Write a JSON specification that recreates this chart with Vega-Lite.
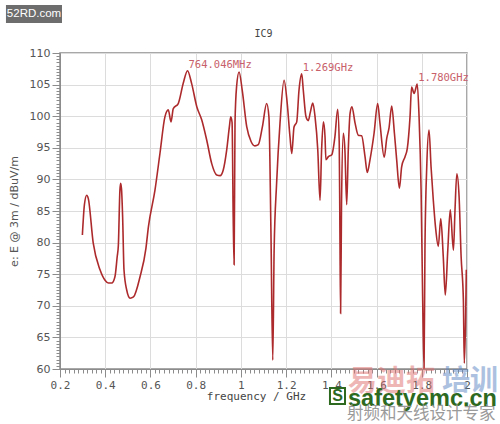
{
  "$schema": "https://vega.github.io/schema/vega-lite/v6.json",
  "width": 407,
  "height": 316,
  "autosize": {"type": "none"},
  "padding": {"left": 60, "top": 53, "right": 33, "bottom": 55},
  "background": "white",
  "config": {"view": {"stroke": "#8c8c8c", "strokeWidth": 1.5}},
  "datasets": {
    "trace": [
      {"f": 0.299, "v": 81.2}, {"f": 0.308, "v": 86.0}, {"f": 0.318, "v": 87.5}, {"f": 0.325, "v": 87.0},
      {"f": 0.347, "v": 79.9}, {"f": 0.377, "v": 75.7}, {"f": 0.40, "v": 74.0}, {"f": 0.414, "v": 73.6},
      {"f": 0.429, "v": 73.6}, {"f": 0.443, "v": 74.6}, {"f": 0.453, "v": 77.8}, {"f": 0.458, "v": 79.5},
      {"f": 0.465, "v": 88.3}, {"f": 0.468, "v": 89.4}, {"f": 0.472, "v": 88.5}, {"f": 0.477, "v": 84.1},
      {"f": 0.483, "v": 75.7}, {"f": 0.495, "v": 72.5}, {"f": 0.510, "v": 71.2}, {"f": 0.525, "v": 71.4},
      {"f": 0.554, "v": 74.6}, {"f": 0.580, "v": 79.1}, {"f": 0.591, "v": 82.5}, {"f": 0.620, "v": 88.3},
      {"f": 0.642, "v": 94.1}, {"f": 0.664, "v": 99.9}, {"f": 0.679, "v": 101.0}, {"f": 0.691, "v": 99.1},
      {"f": 0.701, "v": 101.2}, {"f": 0.723, "v": 102.0}, {"f": 0.745, "v": 105.2}, {"f": 0.764, "v": 107.2},
      {"f": 0.782, "v": 105.2}, {"f": 0.805, "v": 101.5}, {"f": 0.827, "v": 99.4}, {"f": 0.849, "v": 96.2},
      {"f": 0.871, "v": 92.5}, {"f": 0.893, "v": 90.7}, {"f": 0.908, "v": 90.6}, {"f": 0.922, "v": 91.5},
      {"f": 0.937, "v": 94.6}, {"f": 0.949, "v": 98.3}, {"f": 0.955, "v": 99.9}, {"f": 0.961, "v": 99.0},
      {"f": 0.966, "v": 84.0}, {"f": 0.970, "v": 76.5}, {"f": 0.974, "v": 99.0}, {"f": 0.981, "v": 104.7},
      {"f": 0.992, "v": 107.0}, {"f": 1.006, "v": 104.1}, {"f": 1.026, "v": 98.3}, {"f": 1.045, "v": 96.0},
      {"f": 1.062, "v": 95.3}, {"f": 1.077, "v": 95.5}, {"f": 1.095, "v": 98.3}, {"f": 1.114, "v": 102.0},
      {"f": 1.124, "v": 99.9}, {"f": 1.133, "v": 81.5}, {"f": 1.141, "v": 61.4}, {"f": 1.147, "v": 78.8},
      {"f": 1.158, "v": 89.4}, {"f": 1.173, "v": 98.9}, {"f": 1.191, "v": 105.7}, {"f": 1.205, "v": 102.0},
      {"f": 1.217, "v": 96.8}, {"f": 1.225, "v": 94.1}, {"f": 1.235, "v": 98.3}, {"f": 1.247, "v": 99.1},
      {"f": 1.257, "v": 104.1}, {"f": 1.269, "v": 106.7}, {"f": 1.276, "v": 104.1}, {"f": 1.288, "v": 99.9},
      {"f": 1.298, "v": 99.3}, {"f": 1.307, "v": 100.6}, {"f": 1.318, "v": 102.1}, {"f": 1.328, "v": 99.9},
      {"f": 1.340, "v": 94.7}, {"f": 1.350, "v": 86.7}, {"f": 1.357, "v": 94.7}, {"f": 1.365, "v": 99.1},
      {"f": 1.372, "v": 96.8}, {"f": 1.376, "v": 93.1}, {"f": 1.387, "v": 93.6}, {"f": 1.402, "v": 93.9},
      {"f": 1.416, "v": 96.8}, {"f": 1.428, "v": 101.1}, {"f": 1.435, "v": 95.7}, {"f": 1.438, "v": 81.5},
      {"f": 1.441, "v": 68.8}, {"f": 1.445, "v": 86.0}, {"f": 1.453, "v": 97.3}, {"f": 1.460, "v": 94.7},
      {"f": 1.468, "v": 86.0}, {"f": 1.475, "v": 94.7}, {"f": 1.483, "v": 100.5}, {"f": 1.491, "v": 101.5},
      {"f": 1.505, "v": 98.9}, {"f": 1.519, "v": 97.0}, {"f": 1.534, "v": 96.9}, {"f": 1.549, "v": 93.6},
      {"f": 1.559, "v": 91.1}, {"f": 1.571, "v": 93.1}, {"f": 1.589, "v": 97.3}, {"f": 1.605, "v": 102.0},
      {"f": 1.615, "v": 98.9}, {"f": 1.634, "v": 93.5}, {"f": 1.645, "v": 96.5}, {"f": 1.655, "v": 98.1},
      {"f": 1.667, "v": 101.6}, {"f": 1.679, "v": 97.3}, {"f": 1.689, "v": 93.1}, {"f": 1.701, "v": 88.6},
      {"f": 1.711, "v": 92.0}, {"f": 1.726, "v": 93.6}, {"f": 1.736, "v": 94.9}, {"f": 1.748, "v": 99.9},
      {"f": 1.755, "v": 104.6}, {"f": 1.766, "v": 103.6}, {"f": 1.780, "v": 105.1}, {"f": 1.788, "v": 99.9},
      {"f": 1.797, "v": 88.3}, {"f": 1.804, "v": 70.9}, {"f": 1.810, "v": 60.0}, {"f": 1.814, "v": 78.8},
      {"f": 1.822, "v": 92.0}, {"f": 1.832, "v": 97.8}, {"f": 1.841, "v": 92.0}, {"f": 1.851, "v": 86.7},
      {"f": 1.862, "v": 82.0}, {"f": 1.873, "v": 79.4}, {"f": 1.884, "v": 83.8}, {"f": 1.895, "v": 77.8},
      {"f": 1.904, "v": 71.7}, {"f": 1.915, "v": 78.8}, {"f": 1.926, "v": 85.2}, {"f": 1.940, "v": 78.8},
      {"f": 1.947, "v": 85.2}, {"f": 1.955, "v": 90.9}, {"f": 1.965, "v": 87.3}, {"f": 1.974, "v": 77.8},
      {"f": 1.984, "v": 70.9}, {"f": 1.988, "v": 60.9}, {"f": 1.994, "v": 68.3}, {"f": 1.997, "v": 75.7}
    ],
    "peaks": [
      {"f": 0.764, "v": 107.2, "label": "764.046MHz"},
      {"f": 1.269, "v": 106.7, "label": "1.269GHz"},
      {"f": 1.780, "v": 105.1, "label": "1.780GHz"}
    ]
  },
  "layer": [
    {
      "data": {"name": "trace"},
      "mark": {"type": "line", "color": "#ad2a2c", "strokeWidth": 1.6, "clip": true, "interpolate": "monotone"},
      "encoding": {
        "x": {
          "field": "f", "type": "quantitative",
          "scale": {"domain": [0.2, 2.0], "nice": false, "zero": false},
          "axis": {
            "values": [0.2, 0.4, 0.6, 0.8, 1.0, 1.2, 1.4, 1.6, 1.8, 2.0],
            "format": ".1~f", "grid": true, "gridColor": "#dcdcdc", "gridWidth": 1,
            "domainColor": "#8c8c8c", "tickColor": "#8c8c8c", "tickSize": 8,
            "labelFont": "DejaVu Sans Mono", "labelFontSize": 11, "labelColor": "#555555",
            "labelPadding": 2, "labelFlush": false, "labelOverlap": false,
            "title": "frequency / GHz", "titleFont": "DejaVu Sans Mono", "titleFontSize": 11,
            "titleFontWeight": "normal", "titleColor": "#444444", "titlePadding": 0, "titleX": 196
          }
        },
        "y": {
          "field": "v", "type": "quantitative",
          "scale": {"domain": [60, 110], "nice": false, "zero": false},
          "axis": {
            "values": [60, 65, 70, 75, 80, 85, 90, 95, 100, 105, 110],
            "grid": true, "gridColor": "#dcdcdc", "gridWidth": 1,
            "domainColor": "#8c8c8c", "tickColor": "#8c8c8c", "tickSize": 8,
            "labelFont": "DejaVu Sans", "labelFontSize": 11, "labelColor": "#555555",
            "labelPadding": 2, "labelFlush": false, "labelOverlap": false,
            "title": "e: E @ 3m / dBuV/m", "titleFont": "DejaVu Sans", "titleFontSize": 11,
            "titleFontWeight": "normal", "titleColor": "#555555", "titlePadding": 10
          }
        }
      }
    },
    {
      "data": {"name": "peaks"},
      "mark": {"type": "text", "align": "left", "baseline": "bottom", "dx": 1, "dy": -1, "font": "DejaVu Sans Mono", "fontSize": 10.5, "color": "#c8606a"},
      "encoding": {
        "x": {
          "field": "f", "type": "quantitative",
          "scale": {"domain": [0.2, 2.0], "nice": false, "zero": false},
          "axis": {"orient": "bottom", "tickCount": 90, "labels": false, "grid": false, "domain": false, "tickSize": 4, "tickColor": "#8c8c8c", "title": null}
        },
        "y": {
          "field": "v", "type": "quantitative",
          "scale": {"domain": [60, 110], "nice": false, "zero": false},
          "axis": {"orient": "left", "tickCount": 100, "labels": false, "grid": false, "domain": false, "tickSize": 4, "tickColor": "#8c8c8c", "title": null}
        },
        "text": {"field": "label"}
      }
    },
    {
      "data": {"values": [{}]},
      "mark": {"type": "text", "align": "center", "baseline": "middle", "font": "DejaVu Sans Mono", "fontSize": 10, "color": "#444444", "text": "IC9"},
      "encoding": {
        "x": {"datum": 1.1, "type": "quantitative", "axis": null},
        "y": {"datum": 113.0, "type": "quantitative", "axis": null}
      }
    },
    {
      "data": {"values": [{}]},
      "mark": {"type": "rect", "color": "#6d6d6d"},
      "encoding": {
        "x": {"datum": -0.039, "type": "quantitative", "axis": null},
        "x2": {"datum": 0.2088},
        "y": {"datum": 117.6, "type": "quantitative", "axis": null},
        "y2": {"datum": 114.75}
      }
    },
    {
      "data": {"values": [{}]},
      "mark": {"type": "text", "align": "center", "baseline": "middle", "font": "Liberation Sans", "fontSize": 11.5, "color": "white", "text": "52RD.com"},
      "encoding": {
        "x": {"datum": 0.085, "type": "quantitative", "axis": null},
        "y": {"datum": 116.17, "type": "quantitative", "axis": null}
      }
    },
    {
      "data": {"values": [{}]},
      "mark": {"type": "text", "align": "left", "baseline": "middle", "font": "Noto Sans CJK SC", "fontWeight": "bold", "fontSize": 29, "color": "#e07070", "opacity": 0.5, "text": "易迪拓"},
      "encoding": {
        "x": {"datum": 1.4737, "type": "quantitative", "axis": null},
        "y": {"datum": 57.94, "type": "quantitative", "axis": null}
      }
    },
    {
      "data": {"values": [{}]},
      "mark": {"type": "text", "align": "left", "baseline": "middle", "font": "Noto Sans CJK SC", "fontWeight": "bold", "fontSize": 28, "color": "#5b85c3", "opacity": 0.5, "text": "培训"},
      "encoding": {
        "x": {"datum": 1.8895, "type": "quantitative", "axis": null},
        "y": {"datum": 57.94, "type": "quantitative", "axis": null}
      }
    },
    {
      "data": {"values": [{}]},
      "mark": {"type": "rect", "fill": "white", "stroke": "#2d6a1f", "strokeWidth": 2},
      "encoding": {
        "x": {"datum": 1.394, "type": "quantitative", "axis": null},
        "x2": {"datum": 1.4605},
        "y": {"datum": 56.99, "type": "quantitative", "axis": null},
        "y2": {"datum": 54.46}
      }
    },
    {
      "data": {"values": [{}]},
      "mark": {"type": "text", "align": "center", "baseline": "middle", "font": "Liberation Sans", "fontWeight": "bold", "fontSize": 16, "color": "#2d6a1f", "text": "S"},
      "encoding": {
        "x": {"datum": 1.4273, "type": "quantitative", "axis": null},
        "y": {"datum": 55.73, "type": "quantitative", "axis": null}
      }
    },
    {
      "data": {"values": [{}]},
      "mark": {"type": "text", "align": "left", "baseline": "middle", "font": "Liberation Sans", "fontWeight": "bold", "fontSize": 23.5, "color": "#2d6a1f", "text": "safetyemc.cn"},
      "encoding": {
        "x": {"datum": 1.4737, "type": "quantitative", "axis": null},
        "y": {"datum": 55.25, "type": "quantitative", "axis": null}
      }
    },
    {
      "data": {"values": [{}]},
      "mark": {"type": "text", "align": "left", "baseline": "middle", "font": "Noto Sans CJK SC", "fontSize": 16.5, "color": "#9a9a9a", "text": "射频和天线设计专家"},
      "encoding": {
        "x": {"datum": 1.469, "type": "quantitative", "axis": null},
        "y": {"datum": 52.88, "type": "quantitative", "axis": null}
      }
    }
  ],
  "resolve": {"axis": {"x": "independent", "y": "independent"}}
}
